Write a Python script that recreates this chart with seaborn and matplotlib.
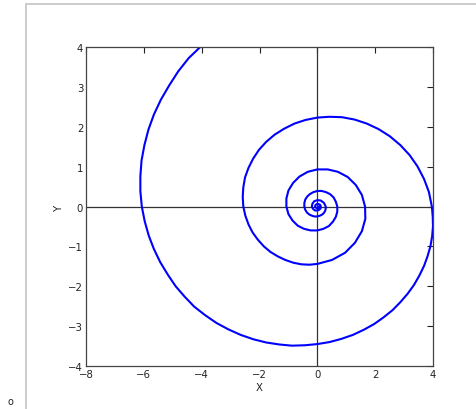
import numpy as np
import pandas as pd
import seaborn as sns
import matplotlib.pyplot as plt
from matplotlib.patches import Rectangle

# spiral points, outer end first, winding inwards
spiral_x = [
    # outer turn
    -4.02, -4.45, -4.81, -5.12, -5.41, -5.65, -5.84, -5.98, -6.08, -6.12,
    -6.12, -6.07, -5.97, -5.83, -5.65, -5.43, -5.17, -4.90, -4.59, -4.26,
    -3.89, -3.49, -3.08, -2.65, -2.21, -1.77, -1.32, -0.88, -0.43, 0.00,
    0.42, 0.83, 1.23, 1.61, 1.96, 2.29, 2.60, 2.87, 3.12, 3.34,
    3.53, 3.69, 3.81, 3.91, 3.97, 4.00, 3.99, 3.96,
    # second turn
    3.86, 3.69, 3.46, 3.19, 2.87, 2.51, 2.12, 1.71, 1.29, 0.85,
    0.42, 0.00, -0.41, -0.79, -1.15, -1.48, -1.77, -2.02, -2.22, -2.38,
    -2.50, -2.56, -2.58, -2.56, -2.49, -2.38, -2.24, -2.06, -1.85, -1.62,
    -1.37, -1.11, -0.83, -0.55, -0.27, 0.00,
    # third turn
    0.51, 0.96, 1.30, 1.54, 1.66, 1.65, 1.54, 1.33, 1.05, 0.71,
    0.36, 0.00, -0.33, -0.62, -0.84, -1.00, -1.07, -1.07, -1.00, -0.86,
    -0.68, -0.46, -0.23, 0.00, 0.21, 0.40, 0.54, 0.64, 0.69, 0.69,
    # fourth turn
    0.64, 0.56, 0.44, 0.30, 0.15, 0.00, -0.14, -0.26, -0.35, -0.42,
    -0.45, -0.45, -0.42, -0.36, -0.28, -0.19, -0.10, 0.00, 0.09, 0.17,
    0.23, 0.27, 0.29, 0.29,
    # centre
    0.23, 0.12, 0.00, -0.11, -0.17, -0.19, -0.15, -0.08, 0.00, 0.07,
    0.11, 0.12, 0.10, 0.05, 0.00, -0.04, -0.07, -0.08, -0.03, 0.03,
    0.05]
spiral_y = [
    # outer turn
    4.02, 3.72, 3.39, 3.04, 2.68, 2.31, 1.93, 1.54, 1.15, 0.76,
    0.38, 0.00, -0.37, -0.73, -1.07, -1.40, -1.71, -2.00, -2.26, -2.51,
    -2.72, -2.92, -3.08, -3.22, -3.33, -3.41, -3.46, -3.49, -3.48, -3.45,
    -3.40, -3.32, -3.22, -3.09, -2.95, -2.78, -2.60, -2.40, -2.19, -1.97,
    -1.73, -1.49, -1.25, -1.00, -0.75, -0.49, -0.25, 0.00,
    # second turn
    0.36, 0.69, 1.01, 1.29, 1.54, 1.76, 1.94, 2.08, 2.18, 2.24,
    2.25, 2.23, 2.17, 2.08, 1.95, 1.80, 1.62, 1.42, 1.20, 0.97,
    0.73, 0.48, 0.24, 0.00, -0.23, -0.45, -0.65, -0.83, -1.00, -1.14,
    -1.25, -1.34, -1.41, -1.45, -1.46, -1.44,
    # third turn
    -1.34, -1.16, -0.91, -0.62, -0.31, 0.00, 0.29, 0.54, 0.74, 0.87,
    0.93, 0.93, 0.87, 0.75, 0.59, 0.40, 0.20, 0.00, -0.19, -0.35,
    -0.48, -0.56, -0.60, -0.60, -0.56, -0.49, -0.38, -0.26, -0.13, 0.00,
    # fourth turn
    0.12, 0.23, 0.31, 0.36, 0.39, 0.39, 0.36, 0.31, 0.25, 0.17,
    0.08, 0.00, -0.08, -0.15, -0.20, -0.23, -0.25, -0.25, -0.23, -0.20,
    -0.16, -0.11, -0.05, 0.00,
    # centre
    0.09, 0.15, 0.16, 0.13, 0.07, 0.00, -0.06, -0.10, -0.10, -0.08,
    -0.05, 0.00, 0.04, 0.06, 0.07, 0.05, 0.03, 0.00, -0.04, -0.04,
    0.00]

xticks = [-8, -6, -4, -2, 0, 2, 4]
yticks = [-4, -3, -2, -1, 0, 1, 2, 3, 4]

df = pd.DataFrame({'X': spiral_x, 'Y': spiral_y})

sns.set_style('white')
plt.rcParams.update({'xtick.direction': 'in', 'ytick.direction': 'in',
                     'xtick.top': True, 'ytick.right': True,
                     'xtick.major.size': 4, 'ytick.major.size': 4,
                     'xtick.major.width': 0.8, 'ytick.major.width': 0.8,
                     'xtick.color': '#222222', 'ytick.color': '#222222',
                     'font.family': ['DejaVu Sans']})

fig = plt.figure(figsize=(4.77, 4.10), dpi=100)

# page frame from the screenshot
fig.patches.append(Rectangle((26 / 477, -0.01), 1.0, 1 - 5 / 410 + 0.01,
                             transform=fig.transFigure, facecolor='none',
                             edgecolor='#c4c4c4', linewidth=1.2, zorder=-1))
fig.text(10 / 477, 1 - 402 / 410, 'o', fontsize=7, color='#222222',
         ha='center', va='center')

ax = fig.add_axes([86 / 477, 1 - 367 / 410, 347 / 477, 319 / 410])
ax.axhline(0, color='#333333', linewidth=0.9, zorder=1)
ax.axvline(0, color='#333333', linewidth=0.9, zorder=1)
sns.lineplot(data=df, x='X', y='Y', sort=False, estimator=None,
             color='#0000ff', linewidth=1.5, ax=ax, zorder=2)

ax.set_xlim(-8, 4)
ax.set_ylim(-4, 4)
ax.set_xticks(xticks)
ax.set_yticks(yticks)
ax.tick_params(labelsize=7.3, pad=2)
ax.set_xlabel('X', fontsize=7.3, labelpad=2.5, color='#222222')
ax.set_ylabel('Y', fontsize=7.3, labelpad=3, color='#222222')
for s in ax.spines.values():
    s.set_color('#444444')
    s.set_linewidth(0.9)

fig.savefig('out.png', dpi=100)
